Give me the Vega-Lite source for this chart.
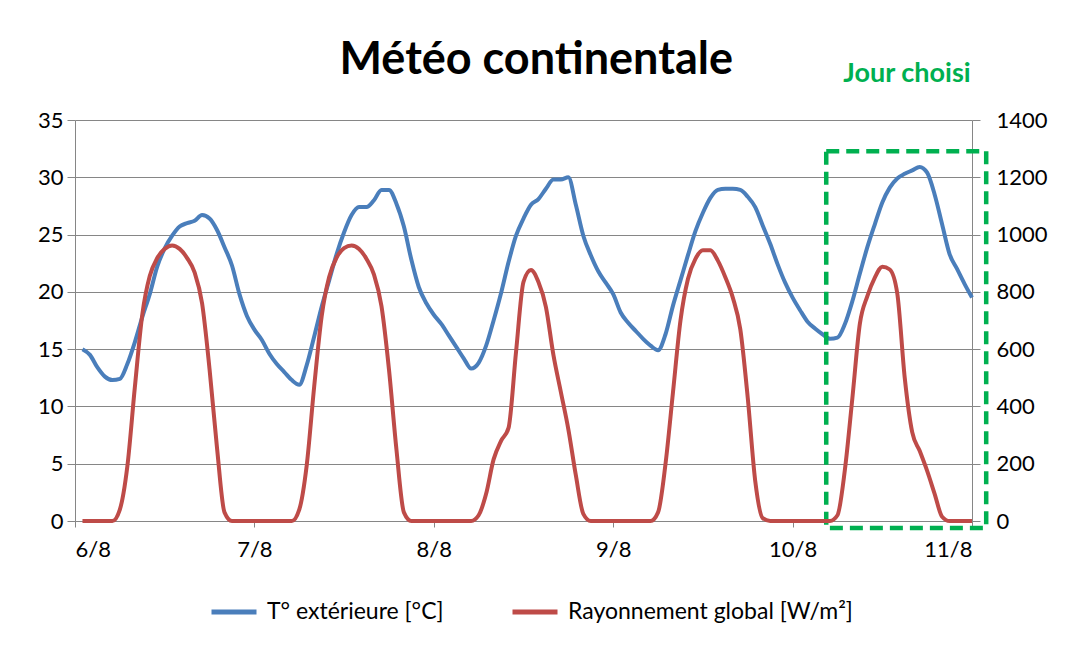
{
  "$schema": "https://vega.github.io/schema/vega-lite/v6.json",
  "width": 897,
  "height": 401,
  "autosize": "none",
  "padding": {"left": 75, "top": 120, "right": 93, "bottom": 127},
  "background": "white",
  "title": {"text": "Météo continentale", "font": "Lato", "fontSize": 45, "fontWeight": "bold", "color": "#000000", "anchor": "middle", "frame": "bounds", "baseline": "alphabetic", "offset": -59, "dx": -6},
  "config": {
    "view": {"stroke": null},
    "font": "Lato",
    "axis": {"domainColor": "#868686", "tickColor": "#868686", "gridColor": "#868686", "gridWidth": 1, "domainWidth": 1, "tickWidth": 1, "labelFont": "Lato", "labelFontSize": 22, "labelColor": "#000000"},
    "legend": {"labelFont": "Lato", "labelFontSize": 23, "labelColor": "#000000", "labelLimit": 0}
  },
  "datasets": {
    "meteo": [
      {"h": 1, "temp": 15.0, "ray": 0}, {"h": 2, "temp": 14.5, "ray": 0}, {"h": 3, "temp": 13.4, "ray": 0}, {"h": 4, "temp": 12.6, "ray": 0},
      {"h": 5, "temp": 12.3, "ray": 0}, {"h": 6, "temp": 12.4, "ray": 40}, {"h": 7, "temp": 13.7, "ray": 190}, {"h": 8, "temp": 15.6, "ray": 465},
      {"h": 9, "temp": 17.8, "ray": 720}, {"h": 10, "temp": 19.8, "ray": 855}, {"h": 11, "temp": 22.2, "ray": 918}, {"h": 12, "temp": 23.8, "ray": 950},
      {"h": 13, "temp": 24.9, "ray": 962}, {"h": 14, "temp": 25.7, "ray": 950}, {"h": 15, "temp": 26.0, "ray": 918}, {"h": 16, "temp": 26.2, "ray": 868},
      {"h": 17, "temp": 26.7, "ray": 760}, {"h": 18, "temp": 26.4, "ray": 530}, {"h": 19, "temp": 25.4, "ray": 255}, {"h": 20, "temp": 23.9, "ray": 30},
      {"h": 21, "temp": 22.3, "ray": 0}, {"h": 22, "temp": 19.8, "ray": 0}, {"h": 23, "temp": 17.9, "ray": 0}, {"h": 24, "temp": 16.7, "ray": 0},
      {"h": 25, "temp": 15.8, "ray": 0}, {"h": 26, "temp": 14.6, "ray": 0}, {"h": 27, "temp": 13.7, "ray": 0}, {"h": 28, "temp": 13.0, "ray": 0},
      {"h": 29, "temp": 12.3, "ray": 0}, {"h": 30, "temp": 11.9, "ray": 40}, {"h": 31, "temp": 13.6, "ray": 195}, {"h": 32, "temp": 16.1, "ray": 470},
      {"h": 33, "temp": 18.7, "ray": 715}, {"h": 34, "temp": 21.0, "ray": 852}, {"h": 35, "temp": 23.3, "ray": 920}, {"h": 36, "temp": 25.2, "ray": 953},
      {"h": 37, "temp": 26.7, "ray": 962}, {"h": 38, "temp": 27.4, "ray": 950}, {"h": 39, "temp": 27.4, "ray": 915}, {"h": 40, "temp": 28.0, "ray": 860},
      {"h": 41, "temp": 28.9, "ray": 750}, {"h": 42, "temp": 28.9, "ray": 530}, {"h": 43, "temp": 27.7, "ray": 250}, {"h": 44, "temp": 25.7, "ray": 30},
      {"h": 45, "temp": 22.8, "ray": 0}, {"h": 46, "temp": 20.4, "ray": 0}, {"h": 47, "temp": 19.0, "ray": 0}, {"h": 48, "temp": 18.0, "ray": 0},
      {"h": 49, "temp": 17.2, "ray": 0}, {"h": 50, "temp": 16.2, "ray": 0}, {"h": 51, "temp": 15.2, "ray": 0}, {"h": 52, "temp": 14.2, "ray": 0},
      {"h": 53, "temp": 13.3, "ray": 0}, {"h": 54, "temp": 13.8, "ray": 20}, {"h": 55, "temp": 15.3, "ray": 95}, {"h": 56, "temp": 17.5, "ray": 215},
      {"h": 57, "temp": 19.9, "ray": 280}, {"h": 58, "temp": 22.6, "ray": 325}, {"h": 59, "temp": 24.9, "ray": 590}, {"h": 60, "temp": 26.4, "ray": 835},
      {"h": 61, "temp": 27.6, "ray": 876}, {"h": 62, "temp": 28.1, "ray": 834}, {"h": 63, "temp": 29.0, "ray": 747}, {"h": 64, "temp": 29.8, "ray": 580},
      {"h": 65, "temp": 29.8, "ray": 450}, {"h": 66, "temp": 30.0, "ray": 320}, {"h": 67, "temp": 27.6, "ray": 160}, {"h": 68, "temp": 24.9, "ray": 25},
      {"h": 69, "temp": 23.2, "ray": 0}, {"h": 70, "temp": 21.8, "ray": 0}, {"h": 71, "temp": 20.8, "ray": 0}, {"h": 72, "temp": 19.8, "ray": 0},
      {"h": 73, "temp": 18.2, "ray": 0}, {"h": 74, "temp": 17.3, "ray": 0}, {"h": 75, "temp": 16.6, "ray": 0}, {"h": 76, "temp": 15.9, "ray": 0},
      {"h": 77, "temp": 15.3, "ray": 0}, {"h": 78, "temp": 14.9, "ray": 30}, {"h": 79, "temp": 16.3, "ray": 200}, {"h": 80, "temp": 18.8, "ray": 450},
      {"h": 81, "temp": 21.0, "ray": 700}, {"h": 82, "temp": 23.2, "ray": 845}, {"h": 83, "temp": 25.3, "ray": 915}, {"h": 84, "temp": 26.9, "ray": 945},
      {"h": 85, "temp": 28.2, "ray": 945}, {"h": 86, "temp": 28.9, "ray": 909}, {"h": 87, "temp": 29.0, "ray": 851}, {"h": 88, "temp": 29.0, "ray": 780},
      {"h": 89, "temp": 28.9, "ray": 670}, {"h": 90, "temp": 28.3, "ray": 430}, {"h": 91, "temp": 27.4, "ray": 140}, {"h": 92, "temp": 25.8, "ray": 10},
      {"h": 93, "temp": 24.2, "ray": 0}, {"h": 94, "temp": 22.4, "ray": 0}, {"h": 95, "temp": 20.8, "ray": 0}, {"h": 96, "temp": 19.5, "ray": 0},
      {"h": 97, "temp": 18.4, "ray": 0}, {"h": 98, "temp": 17.4, "ray": 0}, {"h": 99, "temp": 16.8, "ray": 0}, {"h": 100, "temp": 16.3, "ray": 0},
      {"h": 101, "temp": 15.9, "ray": 0}, {"h": 102, "temp": 16.0, "ray": 20}, {"h": 103, "temp": 17.2, "ray": 180}, {"h": 104, "temp": 19.2, "ray": 430},
      {"h": 105, "temp": 21.6, "ray": 689}, {"h": 106, "temp": 23.9, "ray": 785}, {"h": 107, "temp": 25.9, "ray": 850}, {"h": 108, "temp": 27.8, "ray": 888},
      {"h": 109, "temp": 29.1, "ray": 878}, {"h": 110, "temp": 29.9, "ray": 795}, {"h": 111, "temp": 30.3, "ray": 500}, {"h": 112, "temp": 30.6, "ray": 310},
      {"h": 113, "temp": 30.9, "ray": 245}, {"h": 114, "temp": 30.4, "ray": 175}, {"h": 115, "temp": 28.5, "ray": 95}, {"h": 116, "temp": 25.9, "ray": 15},
      {"h": 117, "temp": 23.3, "ray": 0}, {"h": 118, "temp": 22.0, "ray": 0}, {"h": 119, "temp": 20.7, "ray": 0}, {"h": 120, "temp": 19.5, "ray": 0}
    ],
    "zone": [
      {"debut": 100.5, "fin": 121.9, "haut": 32.27, "bas": -0.61, "milieu": 111.3, "texte_y": 39.0, "label": "Jour choisi"}
    ]
  },
  "layer": [
    {
      "layer": [
        {
          "data": {"name": "meteo"},
          "mark": {"type": "line", "interpolate": "monotone", "strokeWidth": 4, "clip": false},
          "encoding": {
            "x": {"field": "h", "type": "quantitative", "scale": {"domain": [0, 120], "nice": false, "zero": false},
                  "axis": {"title": null, "grid": false, "values": [0, 24, 48, 72, 96, 120], "labelExpr": "['6/8','7/8','8/8','9/8','10/8','11/8'][round(datum.value/24)]", "tickSize": 6, "labelPadding": 12}},
            "y": {"field": "temp", "type": "quantitative", "scale": {"domain": [0, 35], "nice": false, "zero": true},
                  "axis": {"title": null, "orient": "left", "grid": true, "values": [0, 5, 10, 15, 20, 25, 30, 35], "tickSize": 8, "labelPadding": 4}},
            "color": {"datum": "T° extérieure [°C]", "type": "nominal",
                      "scale": {"domain": ["T° extérieure [°C]", "Rayonnement global [W/m²]"], "range": ["#4a7ebb", "#be4b48"]},
                      "legend": {"title": null, "orient": "none", "direction": "horizontal", "legendX": 134, "legendY": 467, "padding": 0, "symbolType": "stroke", "symbolSize": 2025, "symbolStrokeWidth": 5, "labelOffset": 8, "columnPadding": 58, "labelFontSize": 23, "labelLimit": 0}}
          }
        },
        {
          "data": {"name": "zone"},
          "mark": {"type": "rect", "filled": false, "stroke": "#00b050", "strokeWidth": 4.5, "strokeDash": [13, 7], "clip": false},
          "encoding": {
            "x": {"field": "debut", "type": "quantitative"},
            "x2": {"field": "fin"},
            "y": {"field": "haut", "type": "quantitative"},
            "y2": {"field": "bas"}
          }
        },
        {
          "data": {"name": "zone"},
          "mark": {"type": "text", "font": "Lato", "fontSize": 27, "fontWeight": "bold", "color": "#00b050", "align": "center", "baseline": "middle", "clip": false},
          "encoding": {
            "x": {"field": "milieu", "type": "quantitative"},
            "y": {"field": "texte_y", "type": "quantitative"},
            "text": {"field": "label"}
          }
        }
      ]
    },
    {
      "data": {"name": "meteo"},
      "mark": {"type": "line", "interpolate": "monotone", "strokeWidth": 4, "clip": false},
      "encoding": {
        "x": {"field": "h", "type": "quantitative"},
        "y": {"field": "ray", "type": "quantitative", "scale": {"domain": [0, 1400], "nice": false, "zero": true},
              "axis": {"title": null, "orient": "right", "grid": false, "format": "d", "values": [0, 200, 400, 600, 800, 1000, 1200, 1400], "tickSize": 8, "labelPadding": 16}},
        "color": {"datum": "Rayonnement global [W/m²]", "type": "nominal"}
      }
    }
  ],
  "resolve": {"scale": {"y": "independent"}}
}
